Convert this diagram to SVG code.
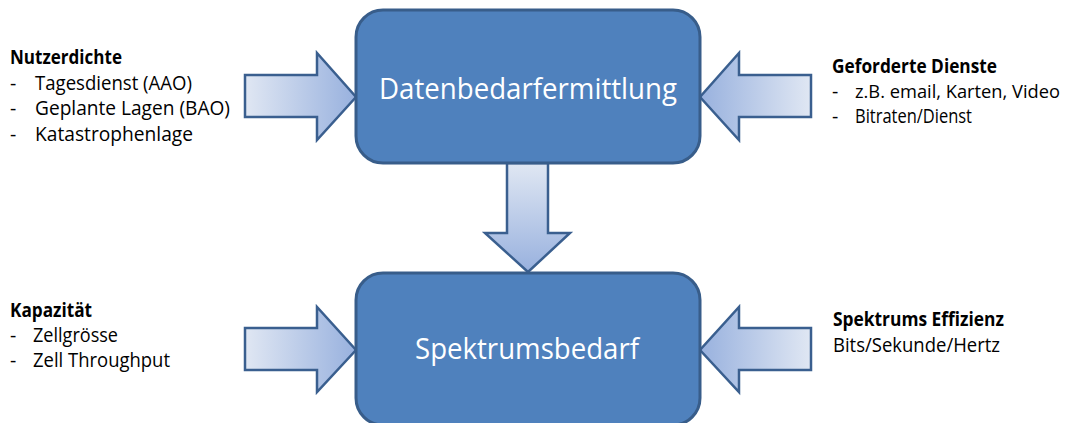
<svg xmlns="http://www.w3.org/2000/svg" width="1070" height="423" viewBox="0 0 1070 423">
<defs>
<linearGradient id="gR" x1="0" y1="0" x2="1" y2="0"><stop offset="0" stop-color="#e0e7f3"/><stop offset="1" stop-color="#98b1de"/></linearGradient>
<linearGradient id="gL" x1="1" y1="0" x2="0" y2="0"><stop offset="0" stop-color="#e0e7f3"/><stop offset="1" stop-color="#98b1de"/></linearGradient>
<linearGradient id="gD" x1="0" y1="0" x2="0" y2="1"><stop offset="0" stop-color="#e0e7f3"/><stop offset="1" stop-color="#98b1de"/></linearGradient>
<style>
.box{fill:#4f81bd;stroke:#385d8a;stroke-width:3}
.arr{stroke:#3a5f8f;stroke-width:2.5;stroke-linejoin:miter}
.title{font-family:"Open Sans","Noto Sans",sans-serif;font-size:28.5px;fill:#ffffff;text-anchor:start}
.t{font-family:"Open Sans","Noto Sans",sans-serif;font-size:19.5px;fill:#000000}
.b{font-weight:bold}
</style>
</defs>
<g id="connectors">
<polygon class="arr" fill="url(#gR)" points="245,75 317,75 317,53 356,97 317,140 317,117 245,117"/>
<polygon class="arr" fill="url(#gL)" points="811,75 739,75 739,53 700,97 739,140 739,117 811,117"/>
<polygon class="arr" fill="url(#gR)" points="245,328 317,328 317,307 356,350 317,392 317,370 245,370"/>
<polygon class="arr" fill="url(#gL)" points="811,328 739,328 739,307 700,350 739,392 739,370 811,370"/>
<polygon class="arr" fill="url(#gD)" points="507,163 548,163 548,233 570,233 528,272 485,233 507,233"/>
</g>
<g id="node-datenbedarf">
<rect class="box" x="356" y="10" width="344" height="153" rx="27" ry="27"/>
<text class="title" x="379" y="99" textLength="298" lengthAdjust="spacingAndGlyphs">Datenbedarfermittlung</text>
</g>
<g id="node-spektrumsbedarf">
<rect class="box" x="356" y="273" width="344" height="152" rx="27" ry="27"/>
<text class="title" x="415" y="359" textLength="224" lengthAdjust="spacingAndGlyphs">Spektrumsbedarf</text>
</g>
<g id="label-nutzerdichte">
<text class="t b" x="10" y="64" textLength="112" lengthAdjust="spacingAndGlyphs">Nutzerdichte</text>
<text class="t" x="10" y="90">-</text><text class="t" x="35" y="90" textLength="157" lengthAdjust="spacingAndGlyphs">Tagesdienst (AAO)</text>
<text class="t" x="10" y="115">-</text><text class="t" x="35" y="115" textLength="195" lengthAdjust="spacingAndGlyphs">Geplante Lagen (BAO)</text>
<text class="t" x="10" y="141">-</text><text class="t" x="35" y="141" textLength="158" lengthAdjust="spacingAndGlyphs">Katastrophenlage</text>
</g>
<g id="label-dienste">
<text class="t b" x="832" y="73" textLength="165" lengthAdjust="spacingAndGlyphs">Geforderte Dienste</text>
<text class="t" x="832" y="98">-</text><text class="t" x="855" y="98" style="font-size:18px" textLength="205" lengthAdjust="spacingAndGlyphs">z.B. email, Karten, Video</text>
<text class="t" x="832" y="123">-</text><text class="t" x="855" y="123" textLength="117" lengthAdjust="spacingAndGlyphs">Bitraten/Dienst</text>
</g>
<g id="label-kapazitaet">
<text class="t b" x="10" y="317" textLength="82" lengthAdjust="spacingAndGlyphs">Kapazität</text>
<text class="t" x="10" y="342">-</text><text class="t" x="33" y="342" textLength="85" lengthAdjust="spacingAndGlyphs">Zellgrösse</text>
<text class="t" x="10" y="367">-</text><text class="t" x="33" y="367" textLength="137" lengthAdjust="spacingAndGlyphs">Zell Throughput</text>
</g>
<g id="label-effizienz">
<text class="t b" x="833" y="326" textLength="171" lengthAdjust="spacingAndGlyphs">Spektrums Effizienz</text>
<text class="t" x="833" y="352" textLength="167" lengthAdjust="spacingAndGlyphs">Bits/Sekunde/Hertz</text>
</g>
</svg>
